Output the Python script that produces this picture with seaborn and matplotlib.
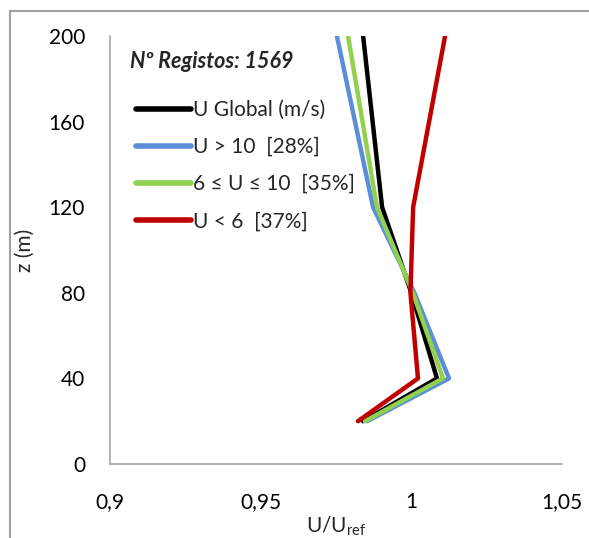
import pandas as pd
import numpy as np
import matplotlib
matplotlib.use("Agg")
import matplotlib.pyplot as plt
import seaborn as sns
from matplotlib.ticker import FuncFormatter
from matplotlib.patches import Rectangle

# heights (m) and normalised velocity profiles U/Uref
z = [20, 40, 80, 120, 200]
u_global = [0.9840, 1.0085, 1.0000, 0.9903, 0.9840]
u_high = [0.9853, 1.0125, 1.0010, 0.9873, 0.9753]
u_mid = [0.9846, 1.0105, 1.0005, 0.9886, 0.9790]
u_low = [0.9823, 1.0022, 0.9997, 1.0006, 1.0112]

labels = ["U Global (m/s)", "U > 10  [28%]", "6 \u2264 U \u2264 10  [35%]", "U < 6  [37%]"]
colors = ["#000000", "#5B8ED6", "#92D050", "#C00000"]
n_registos = 1569

frames = []
for lab, vals in zip(labels, [u_global, u_high, u_mid, u_low]):
    frames.append(pd.DataFrame({"z": z, "u": vals, "serie": lab}))
df = pd.concat(frames, ignore_index=True)

sns.set_style("white")
plt.rcParams["font.family"] = ["Lato", "DejaVu Sans"]

fig = plt.figure(figsize=(5.89, 5.38), dpi=100)
ax = fig.add_axes([110 / 589, 1 - 464 / 538, 452 / 589, 428 / 538])

sns.lineplot(data=df, x="u", y="z", hue="serie", hue_order=labels,
             palette=colors, sort=False, orient="y", estimator=None,
             linewidth=3.2, ax=ax, legend=True)

ax.set_xlim(0.9, 1.05)
ax.set_ylim(0, 200)
ax.set_xticks([0.9, 0.95, 1.0, 1.05])
ax.set_yticks([0, 40, 80, 120, 160, 200])
ax.xaxis.set_major_formatter(FuncFormatter(lambda v, p: f"{v:g}".replace(".", ",")))
ax.tick_params(axis="both", length=0, labelsize=15, colors="#000000")
ax.tick_params(axis="x", pad=20)
ax.tick_params(axis="y", pad=18)

for s in ["top", "right"]:
    ax.spines[s].set_visible(False)
for s in ["left", "bottom"]:
    ax.spines[s].set_color("#A6A6A6")
    ax.spines[s].set_linewidth(1.2)

ax.set_xlabel("U/U$_{\\mathregular{ref}}$", fontsize=15, labelpad=2)
ax.set_ylabel("z (m)", fontsize=15, labelpad=10)

leg = ax.legend(loc="upper left", bbox_to_anchor=(0.04, 0.87), frameon=False,
                fontsize=15, handlelength=2.6, handletextpad=0.1,
                labelspacing=0.82, borderaxespad=0)
for h in leg.get_lines():
    h.set_linewidth(4)

ax.text(0.045, 0.94, f"N\u00ba Registos: {n_registos}", transform=ax.transAxes,
        fontsize=15.5, fontweight="bold", fontstyle="italic", va="center")

# chart border
fig.patches.append(Rectangle((10 / 589, -0.1), 1.2, 1 - 11 / 538 + 0.1,
                             transform=fig.transFigure, fill=False,
                             edgecolor="#A0A0A0", linewidth=1.5))

fig.savefig("out.png", dpi=100)
